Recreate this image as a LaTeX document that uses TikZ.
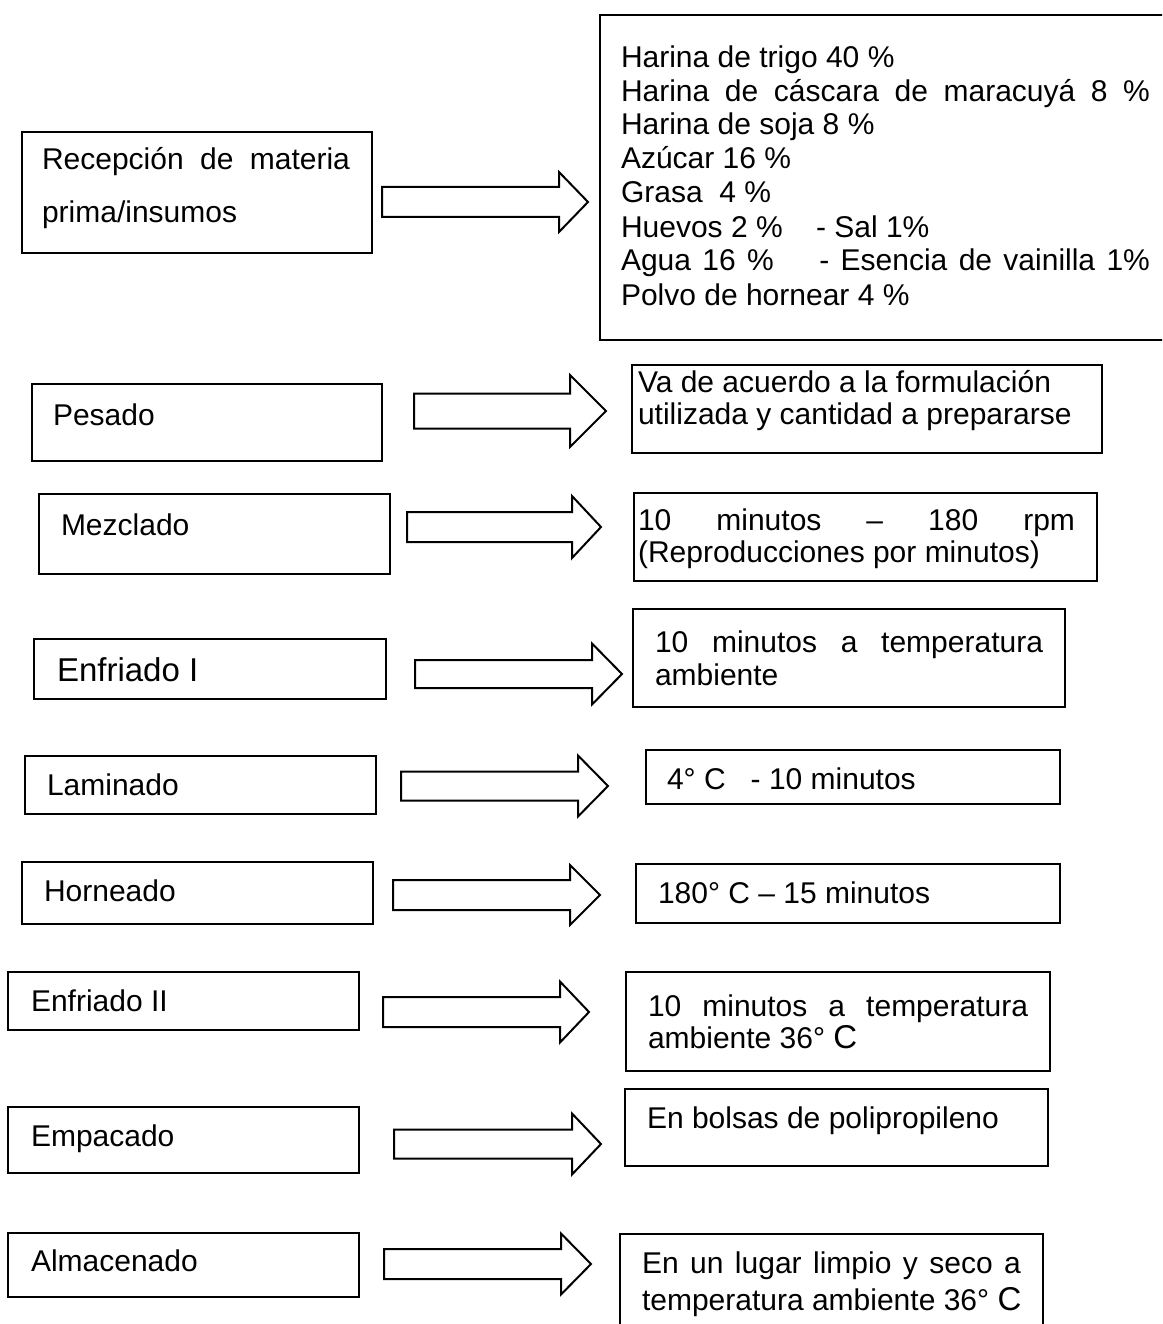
\documentclass[tikz,border=0pt]{standalone}
\usepackage{fontspec}
\setmainfont{Liberation Sans}
\tikzset{
  box/.style={draw, line width=2pt, anchor=north west, inner sep=0pt, outer sep=0pt},
  txt/.style={anchor=base west, inner sep=0pt, outer sep=0pt, font=\fontsize{30}{33}\selectfont},
  bigtxt/.style={txt, font=\fontsize{33}{36}\selectfont},
  barrow/.style={draw, line width=2pt, fill=white, line join=miter, miter limit=10},
}
% box: name, x1, y1, x2, y2 (pixel units, y downwards)
\newcommand\bx[5]{\node[box, minimum width={#4-#2}, minimum height={#5-#3}] (#1) at (#2,#3) {};}
% block arrow: x0, xbase, xtip, ycenter, shaft half height, head half height
\newcommand\barr[6]{\draw[barrow] (#1,{#4-#5}) -- (#2,{#4-#5}) -- (#2,{#4-#6}) -- (#3,#4) -- (#2,{#4+#6}) -- (#2,{#4+#5}) -- (#1,{#4+#5}) -- cycle;}
\begin{document}
\begin{tikzpicture}[x=1pt, y=-1pt]
\useasboundingbox (0,0) rectangle (1162,1324);
\clip (0,0) rectangle (1162,1324);
\fill[white] (0,0) rectangle (1162,1324);

% ---------- boxes ----------
\bx{rec}{22}{132}{372}{253}
\bx{ing}{600}{15}{1180}{340}
\bx{pes}{32}{384}{382}{461}
\bx{pesR}{632}{365}{1102}{453}
\bx{mez}{39}{494}{390}{574}
\bx{mezR}{634}{493}{1097}{581}
\bx{enf}{34}{639}{386}{699}
\bx{enfR}{633}{609}{1065}{707}
\bx{lam}{25}{756}{376}{814}
\bx{lamR}{646}{750}{1060}{804}
\bx{hor}{22}{862}{373}{924}
\bx{horR}{636}{864}{1060}{923}
\bx{enfb}{8}{972}{359}{1030}
\bx{enfbR}{626}{972}{1050}{1071}
\bx{emp}{8}{1107}{359}{1173}
\bx{empR}{625}{1089}{1048}{1166}
\bx{alm}{8}{1233}{359}{1297}
\bx{almR}{620}{1234}{1043}{1340}

% ---------- block arrows ----------
\barr{382}{559}{588}{202}{15}{30}
\barr{414}{570}{606}{411}{17.5}{36}
\barr{407}{572}{601}{527}{15}{31}
\barr{415}{592}{622}{674}{14}{30.5}
\barr{401}{578}{608}{786}{14.5}{30.5}
\barr{393}{570}{600}{895}{15}{30}
\barr{383}{560}{589}{1012}{15}{30.5}
\barr{394}{572}{601}{1144}{14.5}{30.5}
\barr{384}{561}{591}{1264}{15}{30.5}

% ---------- texts ----------
\node[txt] (rec1) at (42,170) {\makebox[308pt][s]{Recepción de materia}};
\node[txt] (rec2) at (42,223) {prima/insumos};

\node[txt] (ing1) at (621,68) {Harina de trigo 40 \%};
\node[txt] (ing2) at (621,102) {\makebox[529pt][s]{Harina de cáscara de maracuyá 8 \%}};
\node[txt] (ing3) at (621,135) {Harina de soja 8 \%};
\node[txt] (ing4) at (621,169) {Azúcar 16 \%};
\node[txt] (ing5) at (621,203) {Grasa\ \ 4 \%};
\node[txt] (ing6) at (621,237) {Huevos 2 \%\ \ \ \ - Sal 1\%};
\node[txt] (ing7) at (621,270) {\makebox[529pt][s]{Agua 16 \%\ \ \ \ - Esencia de vainilla 1\%}};
\node[txt] (ing8) at (621,305) {Polvo de hornear 4 \%};

\node[txt] (pest) at (53,425) {Pesado};
\node[txt] (pesR1) at (638,392) {Va de acuerdo a la formulación};
\node[txt] (pesR2) at (638,424) {utilizada y cantidad a prepararse};

\node[txt] (mezt) at (61,535) {Mezclado};
\node[txt] (mezR1) at (638,530) {\makebox[437pt][s]{10 minutos – 180 rpm}};
\node[txt] (mezR2) at (638,562) {(Reproducciones por minutos)};

\node[bigtxt] (enft) at (57,681) {Enfriado I};
\node[txt] (enfR1) at (655,652) {\makebox[388pt][s]{10 minutos a temperatura}};
\node[txt] (enfR2) at (655,685) {ambiente};

\node[txt] (lamt) at (47,795) {Laminado};
\node[txt] (lamR1) at (667,789) {4° C\ \ \ - 10 minutos};

\node[txt] (hort) at (44,901) {Horneado};
\node[txt] (horR1) at (658,903) {180° C – 15 minutos};

\node[txt] (enfbt) at (31,1011) {Enfriado II};
\node[txt] (enfbR1) at (648,1016) {\makebox[380pt][s]{10 minutos a temperatura}};
\node[txt] (enfbR2) at (648,1048) {ambiente 36° {\fontsize{33}{36}\selectfont C}};

\node[txt] (empt) at (31,1146) {Empacado};
\node[txt] (empR1) at (647,1128) {En bolsas de polipropileno};

\node[txt] (almt) at (31,1271) {Almacenado};
\node[txt] (almR1) at (642,1273) {\makebox[379pt][s]{En un lugar limpio y seco a}};
\node[txt] (almR2) at (642,1310) {temperatura ambiente 36° {\fontsize{33}{36}\selectfont C}};
\end{tikzpicture}
\end{document}
